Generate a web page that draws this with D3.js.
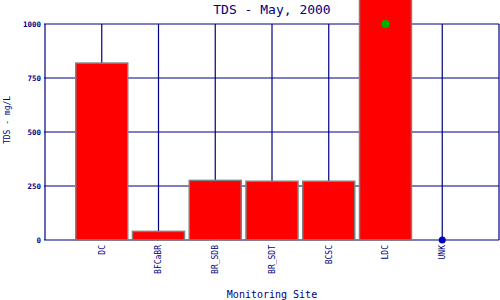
<!DOCTYPE html>
<html>
<head>
<meta charset="utf-8">
<script src="https://cdn.jsdelivr.net/npm/d3@7"></script>
<style>
  body { margin: 0; background: #fff; }
  text { font-family: "DejaVu Sans Mono", monospace; fill: #000080; }
</style>
</head>
<body>
<div id="chart"></div>
<script>
'use strict';
// chart data
var sites = ['DC', 'BFCaBR', 'BR_SDB', 'BR_SDT', 'BCSC', 'LDC', 'UNK'];
var tdsValues = [819, 40, 276, 272, 272, 1150, null];
var greenSites = ['LDC'];
var greenValues = [1000];
var blueSites = ['UNK'];
var blueValues = [0];
var yTicks = [0, 250, 500, 750, 1000];

var width = 500, height = 300;
var margin = {top: 24, right: 1, bottom: 60, left: 45};
var plotW = width - margin.left - margin.right,
    plotH = height - margin.top - margin.bottom;

var svg = d3.select('#chart').append('svg')
    .attr('width', width)
    .attr('height', height);

// x is positional: site i sits at i+1 on a 0..8 range
var x = d3.scaleLinear()
    .domain([0, sites.length + 1])
    .range([margin.left, margin.left + plotW]);
var y = d3.scaleLinear()
    .domain([0, 1000])
    .range([margin.top + plotH, margin.top]);
var step = x(1) - x(0);
var barW = 52;

function xPos(name) { return x(sites.indexOf(name) + 1); }

// grid
var grid = svg.append('g').attr('stroke', '#000080').attr('stroke-width', 1.2);
grid.selectAll('.hgrid')
    .data(yTicks)
  .enter().append('line')
    .attr('x1', margin.left - 1)
    .attr('x2', margin.left + plotW)
    .attr('y1', function(d) { return y(d); })
    .attr('y2', function(d) { return y(d); });
grid.selectAll('.vgrid')
    .data(sites)
  .enter().append('line')
    .attr('x1', function(d) { return xPos(d); })
    .attr('x2', function(d) { return xPos(d); })
    .attr('y1', y(1000))
    .attr('y2', y(0));
grid.append('line')
    .attr('x1', margin.left).attr('x2', margin.left)
    .attr('y1', y(1000)).attr('y2', y(0));
grid.append('line')
    .attr('x1', margin.left + plotW).attr('x2', margin.left + plotW)
    .attr('y1', y(1000)).attr('y2', y(0));

// bars
var barData = sites.map(function(s, i) { return {name: s, value: tdsValues[i]}; })
    .filter(function(d) { return d.value !== null; });
svg.selectAll('.bar')
    .data(barData)
  .enter().append('rect')
    .attr('class', 'bar')
    .attr('x', function(d) { return xPos(d.name) - barW / 2; })
    .attr('width', barW)
    .attr('y', function(d) { return y(d.value); })
    .attr('height', function(d) { return y(0) - y(d.value); })
    .attr('fill', '#ff0000')
    .attr('stroke', '#808080')
    .attr('stroke-width', 1.5);

// point markers
svg.selectAll('.green')
    .data(greenSites)
  .enter().append('circle')
    .attr('cx', function(d) { return xPos(d); })
    .attr('cy', function(d, i) { return y(greenValues[i]); })
    .attr('r', 4)
    .attr('fill', '#00b000');
svg.selectAll('.blue')
    .data(blueSites)
  .enter().append('circle')
    .attr('cx', function(d) { return xPos(d); })
    .attr('cy', function(d, i) { return y(blueValues[i]); })
    .attr('r', 3.5)
    .attr('fill', '#0000c0');

// y tick labels
svg.selectAll('.ylab')
    .data(yTicks)
  .enter().append('text')
    .attr('x', margin.left - 4)
    .attr('y', function(d) { return y(d); })
    .attr('dy', '0.35em')
    .attr('text-anchor', 'end')
    .style('font-size', '7.5px')
    .style('font-weight', 'bold')
    .text(function(d) { return d; });

// x tick labels
svg.selectAll('.xlab')
    .data(sites)
  .enter().append('text')
    .attr('transform', function(d) { return 'translate(' + xPos(d) + ',' + (y(0) + 5) + ') rotate(-90)'; })
    .attr('dy', '0.35em')
    .attr('text-anchor', 'end')
    .style('font-size', '8px')
    .text(function(d) { return d; });

// titles
svg.append('text')
    .attr('x', 272).attr('y', 14)
    .attr('text-anchor', 'middle')
    .style('font-size', '13px')
    .text('TDS - May, 2000');

svg.append('text')
    .attr('x', 272).attr('y', 298)
    .attr('text-anchor', 'middle')
    .style('font-size', '10px')
    .text('Monitoring Site');

svg.append('text')
    .attr('transform', 'translate(10,120) rotate(-90)')
    .attr('text-anchor', 'middle')
    .style('font-size', '8px')
    .text('TDS - mg/L');
</script>
</body>
</html>
